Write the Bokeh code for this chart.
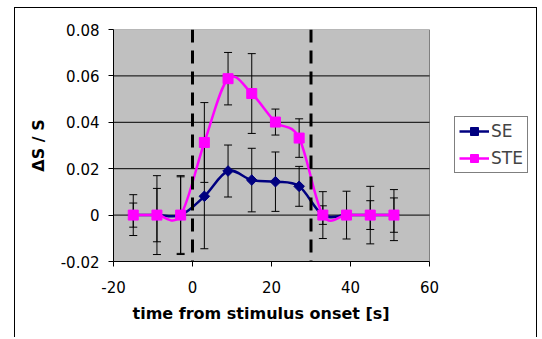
import numpy as np
from bokeh.plotting import figure
from bokeh.models import (ColumnDataSource, Span, Whisker, TeeHead, FixedTicker,
                          Legend, LegendItem, Title)
from bokeh.embed import file_html
from bokeh.resources import INLINE

# ---- data ----
time_s = [-15, -9, -3, 3, 9, 15, 21, 27, 33, 39, 45, 51]
se_values = [0, 0, 0, 0.0081, 0.0190, 0.0151, 0.0144, 0.0124, 0, 0, 0, 0]
ste_values = [0, 0, 0, 0.0313, 0.0588, 0.0524, 0.0401, 0.0332, 0, 0, 0, 0]
se_err = [0.0088, 0.0170, 0.0170, 0.0226, 0.0112, 0.0137, 0.0128, 0.0086, 0.0101, 0.0103, 0.0124, 0.0110]
ste_err = [0.0052, 0.0115, 0.0165, 0.0172, 0.0113, 0.0172, 0.0056, 0.0083, 0.0040, 0.0000, 0.0062, 0.0074]
stim_bounds = [0, 30]
x_ticks = [-20, 0, 20, 40, 60]
x_tick_labels = ["-20", "0", "20", "40", "60"]
y_ticks = [-0.02, 0, 0.02, 0.04, 0.06, 0.08]
y_tick_labels = ["-0.02", "0", "0.02", "0.04", "0.06", "0.08"]
series_names = ["SE", "STE"]

FONT = "DejaVu Sans"

# layout (pixels): the plot area is 316 px wide, the frame also holds the legend
PLOT_W, FRAME_W = 316, 424
x_lo, x_hi = x_ticks[0], x_ticks[-1]
y_lo, y_hi = y_ticks[0], y_ticks[-1]
x_frame_end = x_lo + (x_hi - x_lo) * FRAME_W / PLOT_W

p = figure(width=523, height=330, x_range=(x_lo, x_frame_end), y_range=(y_lo, y_hi),
           output_backend="svg", toolbar_location=None,
           min_border_left=98, min_border_right=1, min_border_top=21, min_border_bottom=77)
p.margin = (7, 0, 0, 14)
p.styles = {"border-top": "1px solid black", "border-left": "1px solid black",
            "border-right": "1px solid black"}

p.background_fill_color = "white"
p.border_fill_color = "white"
p.outline_line_color = None
p.xgrid.visible = False
p.ygrid.visible = False

# plot area (grey) and horizontal gridlines
p.quad(left=[x_lo], right=[x_hi], bottom=[y_lo], top=[y_hi], fill_color="#C0C0C0",
       line_color="#808080", line_width=1, level="image")
p.segment(x0=[x_lo] * (len(y_ticks) - 2), x1=[x_hi] * (len(y_ticks) - 2),
          y0=y_ticks[1:-1], y1=y_ticks[1:-1], line_color="black", line_width=1,
          level="underlay")

p.xaxis.ticker = FixedTicker(ticks=x_ticks)
p.yaxis.ticker = FixedTicker(ticks=y_ticks)
p.xaxis.bounds = (x_lo, x_hi)
p.xaxis.major_label_overrides = {t: l for t, l in zip(x_ticks, x_tick_labels)}
p.yaxis.major_label_overrides = {t: l for t, l in zip(y_ticks, y_tick_labels)}
for ax in (p.xaxis, p.yaxis):
    ax.axis_line_color = "black"
    ax.major_tick_line_color = "black"
    ax.major_tick_in = 0
    ax.major_tick_out = 5
    ax.minor_tick_line_color = None
    ax.major_label_text_font = FONT
    ax.major_label_text_font_size = "15px"
    ax.major_label_text_color = "black"
    ax.axis_label_text_font = FONT
    ax.axis_label_text_font_size = "16px"
    ax.axis_label_text_font_style = "bold"
    ax.axis_label_text_color = "black"
p.yaxis.axis_label = "ΔS / S"
p.xaxis.major_label_standoff = 14
p.yaxis.major_label_standoff = 9
p.yaxis.axis_label_standoff = 10

p.add_layout(Title(text="time from stimulus onset [s]", align="left", offset=19,
                   standoff=13, text_font=FONT, text_font_size="16px",
                   text_font_style="bold", text_color="black"), "below")


def smooth_segments(xs, ys):
    xs = np.asarray(xs, float)
    ys = np.asarray(ys, float)
    n = len(xs)
    d = dict(x0=[], y0=[], x1=[], y1=[], cx0=[], cy0=[], cx1=[], cy1=[])
    for i in range(n - 1):
        a = max(i - 1, 0)
        b = min(i + 2, n - 1)
        d["x0"].append(xs[i]); d["y0"].append(ys[i])
        d["x1"].append(xs[i + 1]); d["y1"].append(ys[i + 1])
        d["cx0"].append(xs[i] + (xs[i + 1] - xs[a]) / 6)
        d["cy0"].append(ys[i] + (ys[i + 1] - ys[a]) / 6)
        d["cx1"].append(xs[i + 1] - (xs[b] - xs[i]) / 6)
        d["cy1"].append(ys[i + 1] - (ys[b] - ys[i]) / 6)
    return ColumnDataSource(d)


# error bars
for vals, errs in ((se_values, se_err), (ste_values, ste_err)):
    src = ColumnDataSource(dict(x=time_s,
                                upper=[v + e for v, e in zip(vals, errs)],
                                lower=[v - e for v, e in zip(vals, errs)]))
    w = Whisker(source=src, base="x", upper="upper", lower="lower",
                line_color="black", line_width=1, level="underlay",
                upper_head=TeeHead(size=8, line_color="black", line_width=1),
                lower_head=TeeHead(size=8, line_color="black", line_width=1))
    p.add_layout(w)

se_src = ColumnDataSource(dict(x=time_s, y=se_values))
ste_src = ColumnDataSource(dict(x=time_s, y=ste_values))

se_line = p.bezier(x0="x0", y0="y0", x1="x1", y1="y1", cx0="cx0", cy0="cy0",
                   cx1="cx1", cy1="cy1", source=smooth_segments(time_s, se_values),
                   line_color="#000080", line_width=2.5)
se_pts = p.scatter("x", "y", source=se_src, marker="square", angle=np.pi / 4, size=7.5,
                   fill_color="#000080", line_color="#000080")
ste_line = p.bezier(x0="x0", y0="y0", x1="x1", y1="y1", cx0="cx0", cy0="cy0",
                    cx1="cx1", cy1="cy1", source=smooth_segments(time_s, ste_values),
                    line_color="#FF00FF", line_width=2.5)
ste_pts = p.scatter("x", "y", source=ste_src, marker="square", size=10,
                    fill_color="#FF00FF", line_color="#FF00FF")

for xb in stim_bounds:
    p.add_layout(Span(location=xb, dimension="height", line_color="black",
                      line_width=3, line_dash="13 8"))

legend = Legend(items=[LegendItem(label=series_names[0], renderers=[se_line, se_pts]),
                       LegendItem(label=series_names[1], renderers=[ste_line, ste_pts])],
                location=(341, 88), margin=0, padding=4, spacing=7,
                glyph_width=30, glyph_height=20, label_height=20, label_standoff=2,
                label_text_font=FONT, label_text_font_size="17px",
                border_line_color="black", border_line_width=1,
                background_fill_color="white", background_fill_alpha=1)
p.add_layout(legend)

open("out.html", "w").write(file_html(p, INLINE))
